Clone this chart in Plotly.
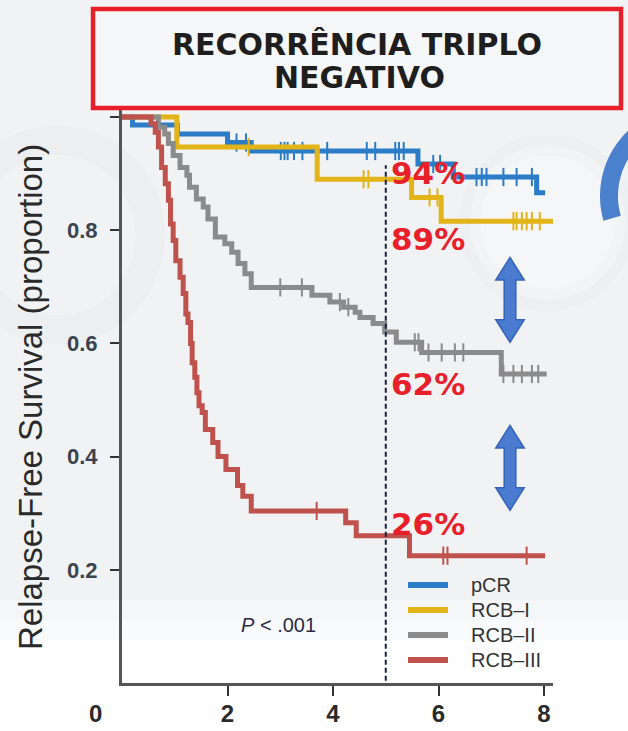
import numpy as np
import plotly.graph_objects as go

# ---------------------------------------------------------------
# Kaplan-Meier relapse-free survival, triple-negative cohort
# step times (years) and survival proportion after each step
# ---------------------------------------------------------------
groups = ["pCR", "RCB\u2013I", "RCB\u2013II", "RCB\u2013III"]

pcr_t = [0, 0.20, 1.05, 2.00, 2.45, 5.61, 6.28, 7.86, 8.02]
pcr_s = [1.0, 0.986, 0.970, 0.955, 0.940, 0.917, 0.894, 0.866, 0.866]
pcr_cens = [2.17, 2.35, 3.01, 3.08, 3.14, 3.26, 3.42, 3.89, 4.64, 4.80, 5.18,
            5.25, 5.34, 5.90, 6.03, 6.72, 6.82, 6.91, 7.23, 7.48, 7.77]

rcb1_t = [0, 1.04, 3.70, 5.49, 6.05, 8.18]
rcb1_s = [1.0, 0.947, 0.890, 0.858, 0.816, 0.816]
rcb1_cens = [2.40, 4.58, 4.67, 5.83, 5.98, 7.42, 7.48, 7.58, 7.67, 7.77, 7.92]

rcb2_t = [0, 0.69, 0.81, 0.88, 0.97, 1.10, 1.23, 1.28, 1.41, 1.54, 1.63, 1.77,
          1.95, 2.08, 2.20, 2.33, 2.45, 3.60, 3.94, 4.20, 4.42, 4.51, 4.76,
          4.98, 5.20, 5.68, 7.19, 8.05]
rcb2_s = [1.0, 0.982, 0.970, 0.953, 0.932, 0.911, 0.897, 0.876, 0.855, 0.841,
          0.820, 0.788, 0.776, 0.761, 0.741, 0.723, 0.699, 0.685, 0.673, 0.664,
          0.655, 0.646, 0.635, 0.620, 0.602, 0.584, 0.546, 0.546]
rcb2_cens = [3.00, 3.41, 4.13, 4.29, 5.55, 5.62, 5.81, 6.06, 6.31, 6.47, 7.23,
             7.42, 7.58, 7.77, 7.89]

rcb3_t = [0, 0.55, 0.63, 0.69, 0.75, 0.82, 0.88, 0.92, 0.97, 1.02, 1.10, 1.16,
          1.21, 1.25, 1.30, 1.33, 1.38, 1.42, 1.46, 1.52, 1.58, 1.72, 1.82,
          1.97, 2.19, 2.29, 2.45, 4.24, 4.44, 5.45, 8.02]
rcb3_s = [1.0, 0.988, 0.973, 0.947, 0.911, 0.882, 0.853, 0.811, 0.782, 0.746,
          0.717, 0.688, 0.652, 0.637, 0.600, 0.566, 0.540, 0.513, 0.490, 0.478,
          0.448, 0.425, 0.400, 0.377, 0.349, 0.330, 0.304, 0.283, 0.260, 0.225,
          0.225]
rcb3_cens = [3.69, 6.09, 6.17, 7.67]

landmark_year = 5
x_ticks = [2, 4, 6, 8]
y_ticks = [0.2, 0.4, 0.6, 0.8, 1.0]
y_ticktext = ["0.2", "0.4", "0.6", "0.8", ""]

colors = ["#2a7dc6", "#e3b417", "#8b8b8b", "#c0524d"]
series = [
    (pcr_t, pcr_s, pcr_cens),
    (rcb1_t, rcb1_s, rcb1_cens),
    (rcb2_t, rcb2_s, rcb2_cens),
    (rcb3_t, rcb3_s, rcb3_cens),
]

# where each landmark percentage label sits (y in survival units)
label_y = [0.901, 0.784, 0.528, 0.281]


def surv_at(times, vals, t):
    idx = np.searchsorted(np.asarray(times), t, side="right") - 1
    return vals[max(idx, 0)]


# ---------------- geometry ----------------
W, H = 628, 731
ML, MR, MT, MB = 122, 75, 110, 48
PW, PH = W - ML - MR, H - MT - MB
X_MAX = 8.17
Y_MAX = 1.0124


def px_x(px):
    return (px - ML) / PW


def px_y(py):
    return (H - MB - py) / PH


fig = go.Figure()

for name, col, (tt, ss, cc) in zip(groups, colors, series):
    fig.add_trace(go.Scatter(
        x=tt, y=ss, mode="lines", name=name, showlegend=False,
        line=dict(color=col, width=5, shape="hv"),
        hoverinfo="skip",
    ))
    fig.add_trace(go.Scatter(
        x=cc, y=[surv_at(tt, ss, c) for c in cc], mode="markers",
        showlegend=False, hoverinfo="skip",
        marker=dict(symbol="line-ns-open", size=13, color=col,
                    line=dict(color=col, width=2)),
    ))

shapes = []

# soft backdrop decorations
shapes.append(dict(type="circle", xref="paper", yref="paper", layer="below",
                   x0=px_x(-35), x1=px_x(150), y0=px_y(330), y1=px_y(140),
                   line=dict(color="rgba(0,0,0,0.014)", width=30)))
shapes.append(dict(type="circle", xref="paper", yref="paper", layer="below",
                   x0=px_x(470), x1=px_x(625), y0=px_y(300), y1=px_y(145),
                   fillcolor="rgba(255,255,255,0.3)",
                   line=dict(color="rgba(0,0,0,0.012)", width=22)))
for y0, y1, op in [(600, 620, 0.3), (620, 640, 0.6), (640, 731, 0.9)]:
    shapes.append(dict(type="rect", xref="paper", yref="paper", layer="below",
                       x0=px_x(0), x1=px_x(W), y0=px_y(y1), y1=px_y(y0),
                       fillcolor=f"rgba(255,255,255,{op})", line_width=0))

# blue crescent at the right edge
th = np.radians(np.linspace(128, 196, 30))
cx, cy, r_out, r_in = 690, 196, 90, 72
outer = [(cx + r_out * np.cos(a), cy - r_out * np.sin(a)) for a in th]
inner = [(cx + r_in * np.cos(a), cy - r_in * np.sin(a)) for a in th[::-1]]
ring = outer + inner
path = "M " + " L ".join(f"{px_x(x):.4f},{px_y(y):.4f}" for x, y in ring) + " Z"
shapes.append(dict(type="path", xref="paper", yref="paper", layer="below",
                   path=path, fillcolor="#4a80cc", line_width=0))

# landmark dashed line
shapes.append(dict(type="line", xref="x", yref="y", layer="above",
                   x0=landmark_year, x1=landmark_year, y0=-0.01, y1=0.915,
                   line=dict(color="#1b2240", width=2, dash="5px,3px")))


def double_arrow(xc, ytop, ybot, hw=0.27, sw=0.11, hh=0.040):
    pts = [(xc, ytop), (xc + hw, ytop - hh), (xc + sw, ytop - hh),
           (xc + sw, ybot + hh), (xc + hw, ybot + hh), (xc, ybot),
           (xc - hw, ybot + hh), (xc - sw, ybot + hh), (xc - sw, ytop - hh),
           (xc - hw, ytop - hh)]
    return "M " + " L ".join(f"{x:.4f},{y:.4f}" for x, y in pts) + " Z"


for ytop, ybot in [(0.752, 0.602), (0.455, 0.305)]:
    shapes.append(dict(type="path", xref="x", yref="y", layer="above",
                       path=double_arrow(7.355, ytop, ybot),
                       fillcolor="#4a7bd0",
                       line=dict(color="#3565b6", width=1.5)))

# title box
shapes.append(dict(type="rect", xref="paper", yref="paper", layer="above",
                   x0=px_x(93), x1=px_x(621), y0=px_y(108), y1=px_y(9),
                   fillcolor="#f5f6f8", line=dict(color="#e8202a", width=4.5)))

annotations = []

# legend: coloured line sample plus group name, one row per group
legend_rows = [585, 610, 635, 660]
for name, col, row in zip(groups, colors, legend_rows):
    shapes.append(dict(type="line", xref="paper", yref="paper", layer="above",
                       x0=px_x(408), x1=px_x(448), y0=px_y(row), y1=px_y(row),
                       line=dict(color=col, width=6)))
    annotations.append(dict(text=name, xref="paper", yref="paper",
                            x=px_x(469), y=px_y(row), showarrow=False,
                            xanchor="left", yanchor="middle",
                            font=dict(family="Liberation Sans", size=20,
                                      color="#333333")))

title_font = dict(family="DejaVu Sans", size=30, color="#1e1e1e", weight="bold")
annotations.append(dict(text="RECORRÊNCIA TRIPLO", xref="paper", yref="paper",
                        x=px_x(357), y=px_y(45), showarrow=False,
                        xanchor="center", yanchor="middle", font=title_font))
annotations.append(dict(text="NEGATIVO", xref="paper", yref="paper",
                        x=px_x(359), y=px_y(77), showarrow=False,
                        xanchor="center", yanchor="middle", font=title_font))

for (tt, ss, _), ly in zip(series, label_y):
    v = surv_at(tt, ss, landmark_year)
    annotations.append(dict(
        text=f"{round(v * 100)}%", xref="x", yref="y",
        x=landmark_year + 0.06, y=ly, showarrow=False,
        xanchor="left", yanchor="middle",
        font=dict(family="DejaVu Sans", size=31, color="#e8202a",
                  weight="bold")))

annotations.append(dict(text="Relapse-Free Survival (proportion)",
                        xref="paper", yref="paper", x=px_x(30), y=px_y(397),
                        textangle=-90, showarrow=False,
                        xanchor="center", yanchor="middle",
                        font=dict(family="Liberation Sans", size=33,
                                  color="#2a2a2a")))
annotations.append(dict(text="0", xref="paper", yref="paper",
                        x=px_x(95), y=px_y(713), showarrow=False,
                        xanchor="center", yanchor="middle",
                        font=dict(family="Liberation Sans", size=24,
                                  color="#2a2a2a", weight="bold")))
annotations.append(dict(text="<i>P</i> &lt; .001", xref="paper", yref="paper",
                        x=px_x(278), y=px_y(625), showarrow=False,
                        xanchor="center", yanchor="middle",
                        font=dict(family="Liberation Sans", size=20,
                                  color="#2a2d45")))

fig.update_layout(
    width=W, height=H,
    margin=dict(l=ML, r=MR, t=MT, b=MB, autoexpand=False),
    paper_bgcolor="#f1f2f4",
    plot_bgcolor="rgba(0,0,0,0)",
    showlegend=False,
    shapes=shapes,
    annotations=annotations,
    xaxis=dict(range=[0, X_MAX], tickvals=x_ticks, showgrid=False,
               zeroline=False, showline=True, linecolor="#555555",
               linewidth=3, ticks="outside", ticklen=10, tickwidth=2,
               tickcolor="#333333", ticklabelstandoff=-3,
               tickfont=dict(family="Liberation Sans", size=24,
                             color="#2a2a2a", weight="bold")),
    yaxis=dict(range=[0, Y_MAX], tickvals=y_ticks, ticktext=y_ticktext,
               showgrid=False, zeroline=False, showline=True,
               linecolor="#555555", linewidth=3, ticks="outside", ticklen=9,
               tickwidth=2, tickcolor="#333333", ticklabelstandoff=8,
               tickfont=dict(family="Liberation Sans", size=22,
                             color="#3a4450", weight="bold")),
)

fig.write_html("out.html")
